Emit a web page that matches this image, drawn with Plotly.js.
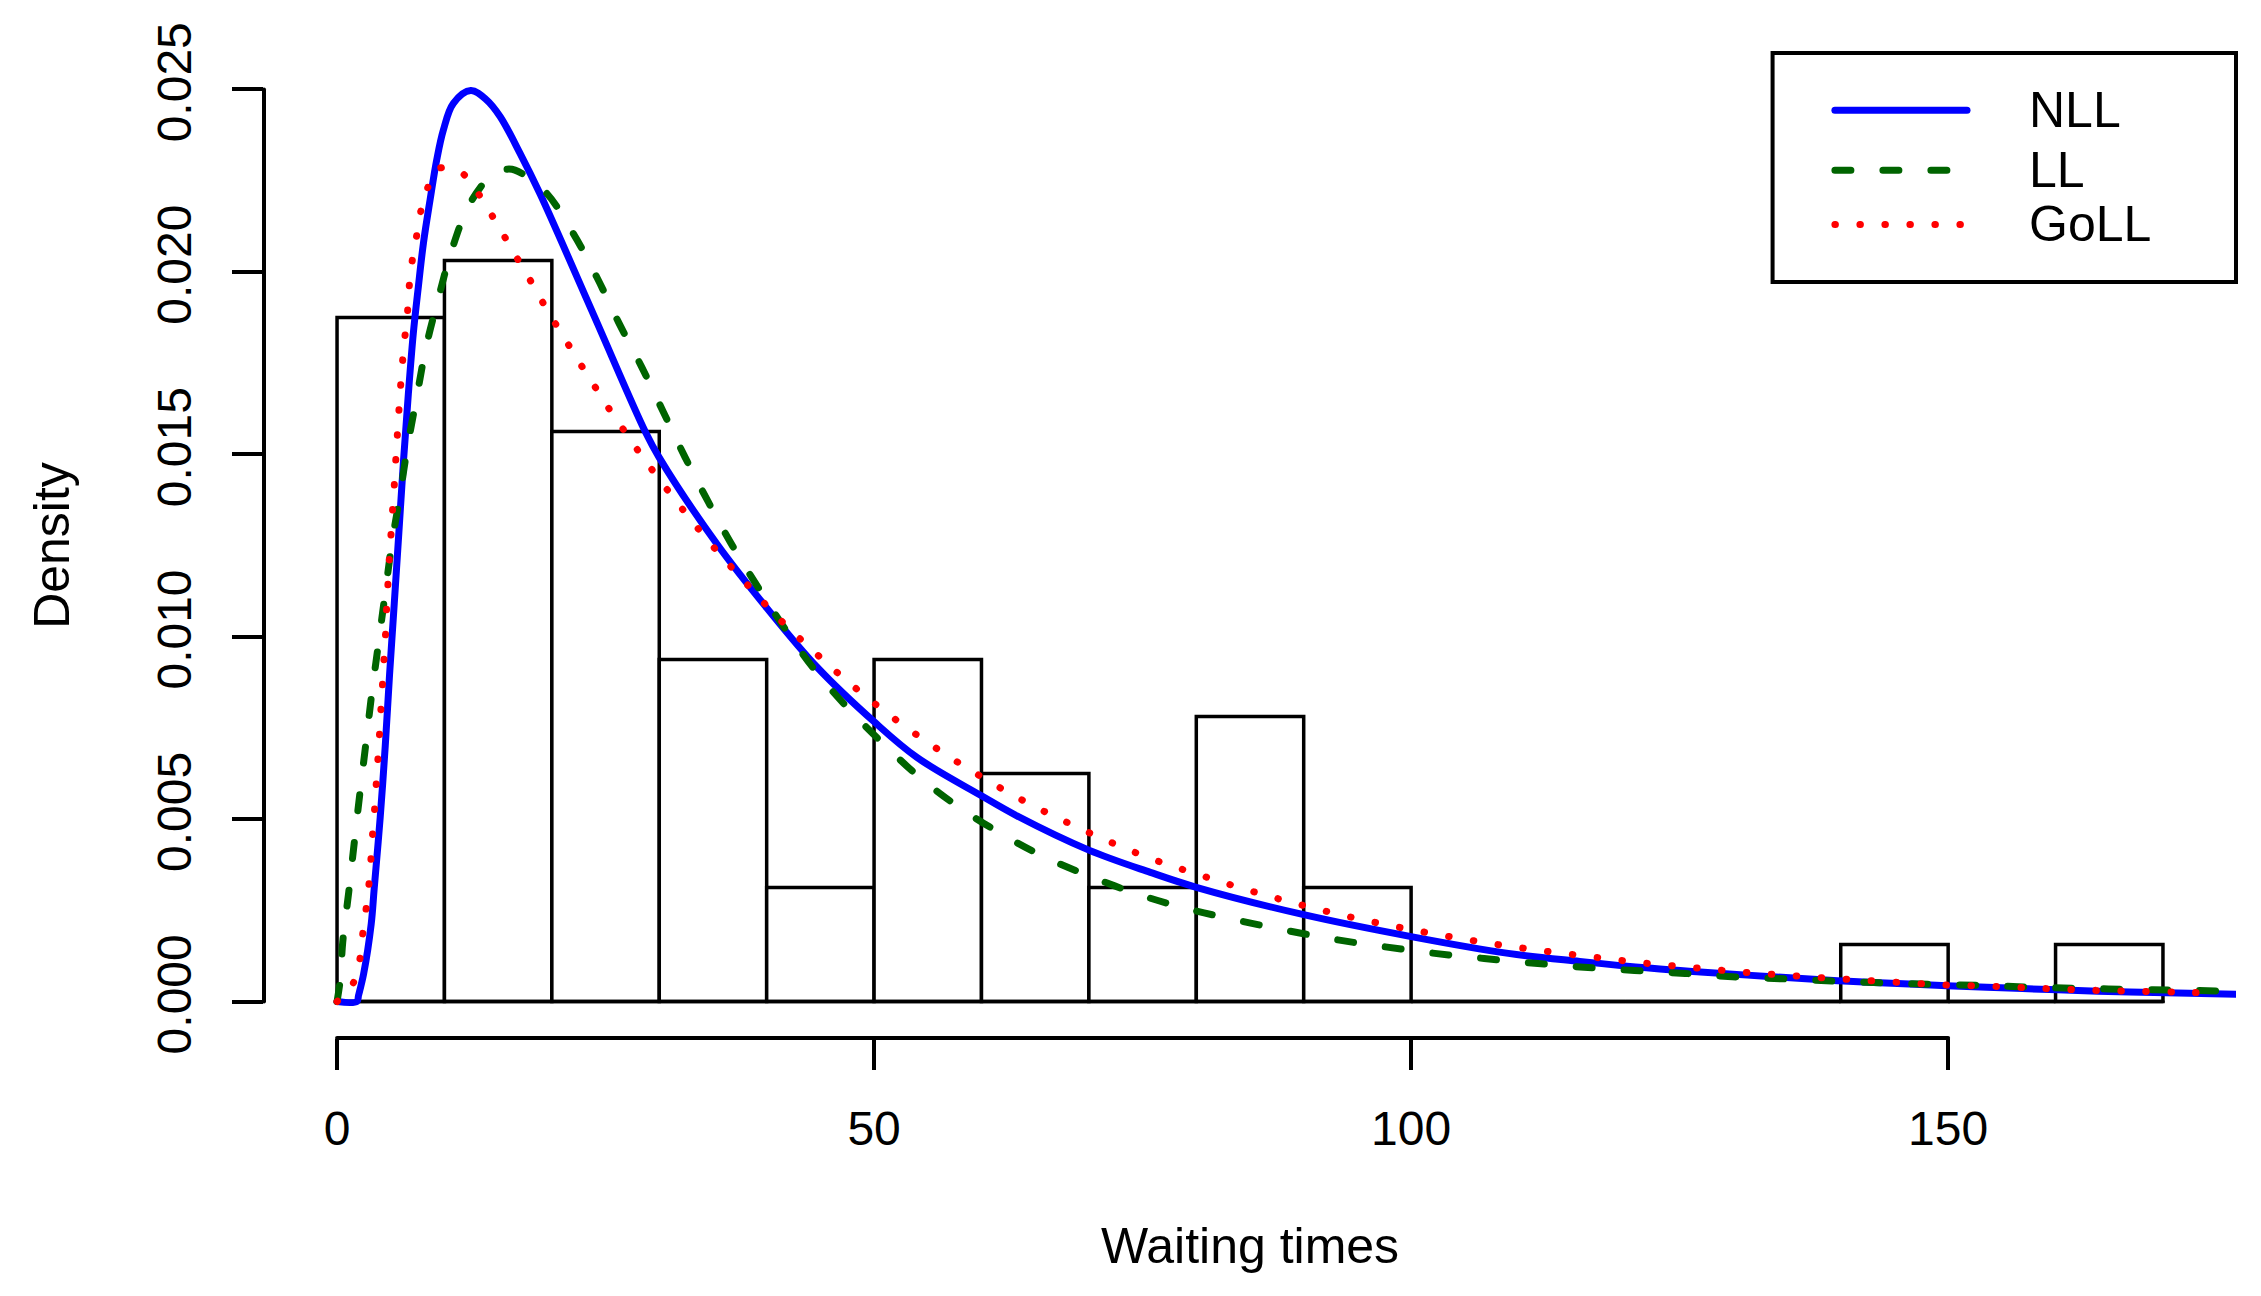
<!DOCTYPE html>
<html>
<head>
<meta charset="utf-8">
<script src="https://cdn.plot.ly/plotly-3.0.1.min.js"></script>
<style>
  html, body { margin: 0; padding: 0; background: #fff; }
  #graph { width: 2261px; height: 1296px; }
  /* R draws lines with round ends, so dots look like dots */
  .js-line, .shapelayer path { stroke-linecap: round; }
</style>
</head>
<body>
<div id="graph"></div>
<script>
// histogram of waiting times, bins of width 10
const breaks = [0, 10, 20, 30, 40, 50, 60, 70, 80, 90, 100, 110, 120, 130, 140, 150, 160, 170];
const density = [0.01875, 0.0203125, 0.015625, 0.009375, 0.003125, 0.009375, 0.00625, 0.003125,
  0.0078125, 0.003125, 0, 0, 0, 0, 0.0015625, 0, 0.0015625];

// fitted densities
const nllX = [0, 1.85, 2.0, 2.47, 3.18, 3.46, 4.02, 4.49, 4.89, 5.33, 5.76, 6.19, 6.64, 7.10, 7.57,
  8.04, 8.66, 9.28, 9.90, 10.83, 12.45, 13.94, 15.18, 17.04, 18.93, 23.88, 28.7, 30, 35.37, 40,
  44.68, 50, 53.99, 60, 63.3, 70, 75.72, 80, 90, 100, 109.05, 115.7, 122.4, 126.93, 133.6, 140.25,
  146.9, 153.6, 160.2, 166.9, 173.55, 176.8];
const nllY = [0, 0, 0.000165, 0.00075, 0.00212, 0.0031, 0.00505, 0.00701, 0.00896, 0.01092, 0.01287,
  0.01483, 0.01666, 0.01831, 0.01959, 0.02078, 0.02197, 0.02307, 0.02389, 0.02462, 0.02497, 0.02471,
  0.02426, 0.02325, 0.02212, 0.01883, 0.01562, 0.01491, 0.01254, 0.01079, 0.00917, 0.00767, 0.00669,
  0.00564, 0.00509, 0.00415, 0.00354, 0.00313, 0.00238, 0.00178, 0.00132, 0.0011, 0.00091, 0.00081,
  0.00068, 0.00056, 0.00047, 0.00039, 0.00032, 0.00026, 0.00022, 0.0002];

const llX = [0, 0.3, 0.53, 1.09, 1.61, 2.14, 2.70, 3.23, 3.85, 4.47, 5.09, 5.87, 6.55, 7.42, 8.29,
  9.43, 10.68, 12.38, 14.55, 15.64, 16.57, 19.37, 22.0, 24.18, 26.19, 28.37, 30.38, 32.42, 34.59,
  36.82, 39.25, 41.82, 44.53, 47.63, 50.88, 54.3, 58.03, 62.0, 66.1, 70.38, 74.79, 79.22, 83.78,
  88.39, 92.95, 97.55, 102.2, 106.8, 111.5, 116.1, 120.8, 125.5, 129.9, 134.8, 139.3, 143.95, 148.6,
  153.25, 157.9, 162.6, 167.2, 171.9, 176.2];
const llY = [0, 0.0006, 0.00163, 0.003, 0.00437, 0.00574, 0.00711, 0.00843, 0.0098, 0.01116, 0.01253,
  0.0139, 0.01519, 0.01657, 0.01794, 0.01927, 0.0206, 0.02188, 0.0227, 0.02281, 0.02279, 0.0222,
  0.02105, 0.01986, 0.01863, 0.01739, 0.01616, 0.01491, 0.01368, 0.01249, 0.01133, 0.01017, 0.00907,
  0.00802, 0.00706, 0.00613, 0.0053, 0.00457, 0.00393, 0.0034, 0.00292, 0.00254, 0.00223, 0.00195,
  0.0017, 0.0015, 0.00132, 0.00118, 0.00105, 0.00094, 0.00085, 0.00077, 0.00068, 0.00062, 0.00056,
  0.00051, 0.00047, 0.00044, 0.00039, 0.00036, 0.00033, 0.00031, 0.00028];

const gollX = [0, 1.43, 2.08, 2.36, 2.67, 2.95, 3.14, 3.29, 3.48, 3.63, 3.79, 3.94, 4.07, 4.22, 4.35,
  4.50, 4.59, 4.72, 4.84, 5.00, 5.15, 5.31, 5.45, 5.59, 5.74, 5.90, 6.08, 6.30, 6.55, 6.70, 6.95,
  7.36, 7.73, 8.35, 9.34, 11.36, 12.88, 14.15, 15.33, 16.51, 17.72, 18.87, 20.05, 21.26, 22.47,
  23.74, 24.98, 26.29, 27.62, 28.99, 31.83, 34.78, 37.85, 41.0, 44.4, 47.91, 51.54, 55.35, 59.26,
  63.3, 67.46, 71.69, 76.03, 80.42, 84.85, 89.35, 93.85, 98.45, 103.0, 107.65, 112.25, 116.9, 121.5,
  126.2, 130.7, 135.3, 139.96, 144.6, 149.2, 153.9, 158.6, 163.2, 167.9, 172.5, 174.8];
const gollY = [0, 0.00046, 0.00109, 0.00178, 0.00246, 0.00315, 0.00383, 0.00451, 0.0052, 0.00588,
  0.00657, 0.00725, 0.00794, 0.00862, 0.00929, 0.00997, 0.01064, 0.01133, 0.01201, 0.0127, 0.01338,
  0.01406, 0.01475, 0.01542, 0.01611, 0.0168, 0.01748, 0.01817, 0.01885, 0.01953, 0.02021, 0.0209,
  0.02157, 0.02223, 0.02282, 0.02277, 0.02226, 0.02168, 0.0211, 0.0205, 0.01991, 0.01931, 0.01872,
  0.01814, 0.01756, 0.01698, 0.0164, 0.01584, 0.01527, 0.01471, 0.01362, 0.01255, 0.01154, 0.01054,
  0.00959, 0.00868, 0.00783, 0.00703, 0.00629, 0.0056, 0.00498, 0.00441, 0.00389, 0.00346, 0.00305,
  0.00268, 0.00235, 0.00206, 0.00181, 0.00158, 0.00139, 0.00122, 0.00106, 0.00093, 0.00081, 0.00071,
  0.00062, 0.00054, 0.00046, 0.00042, 0.00036, 0.00031, 0.00028, 0.00025, 0.00023];

const xTicks = [0, 50, 100, 150];
const yTicks = [0, 0.005, 0.010, 0.015, 0.020, 0.025];

const seriesNames = ['NLL', 'LL', 'GoLL'];
const seriesColors = ['#0000ff', '#006400', '#ff0000'];
const seriesDash = ['solid', '16px,32px', '0.5px,24.5px'];

const FONT = 'Liberation Sans, Arial, Helvetica, sans-serif';
const LW = 7;

draw();

function draw() {
  const mids = [];
  const widths = [];
  for (let i = 0; i < density.length; i++) {
    mids.push((breaks[i] + breaks[i + 1]) / 2);
    widths.push(breaks[i + 1] - breaks[i]);
  }

  const bars = {
    type: 'bar',
    x: mids,
    y: density,
    width: widths,
    marker: {
      color: '#ffffff',
      line: { color: '#000000', width: 3.5 }
    },
    showlegend: false
  };

  // empty bins still show their bottom edge in R
  const base = {
    x: [breaks[0], breaks[breaks.length - 1]],
    y: [0, 0],
    mode: 'lines',
    line: { color: '#000000', width: 3.5 },
    showlegend: false
  };

  const curves = [[nllX, nllY], [llX, llY], [gollX, gollY]].map(function (xy, i) {
    return {
      x: xy[0],
      y: xy[1],
      mode: 'lines',
      name: seriesNames[i],
      line: { color: seriesColors[i], width: LW, dash: seriesDash[i], shape: 'spline', smoothing: 1 },
      showlegend: false
    };
  });

  // axis lines only span the ticks, like R's axis()
  const shapes = [
    {
      type: 'line', xref: 'x', yref: 'paper',
      x0: xTicks[0], x1: xTicks[xTicks.length - 1], y0: 0, y1: 0,
      line: { color: '#000000', width: 4 }
    },
    {
      type: 'line', xref: 'paper', yref: 'y',
      x0: 0, x1: 0, y0: yTicks[0], y1: yTicks[yTicks.length - 1],
      line: { color: '#000000', width: 4 }
    },
    // legend box
    {
      type: 'rect', xref: 'paper', yref: 'paper',
      x0: 0.765, x1: 1, y0: 0.7675, y1: 1,
      line: { color: '#000000', width: 4 },
      fillcolor: 'rgba(255,255,255,0)'
    }
  ];

  const legendRows = [0.942, 0.881, 0.826];
  const annotations = [];
  for (let i = 0; i < seriesNames.length; i++) {
    shapes.push({
      type: 'line', xref: 'paper', yref: 'paper',
      x0: 0.7966, x1: 0.8636, y0: legendRows[i], y1: legendRows[i],
      line: { color: seriesColors[i], width: LW, dash: seriesDash[i] }
    });
    annotations.push({
      xref: 'paper', yref: 'paper',
      x: 0.894, y: legendRows[i],
      xanchor: 'left', yanchor: 'middle',
      text: seriesNames[i],
      showarrow: false,
      font: { family: FONT, size: 50, color: '#000000' }
    });
  }

  const layout = {
    width: 2261,
    height: 1296,
    margin: { l: 264, r: 25, t: 53, b: 258, pad: 0 },
    paper_bgcolor: '#ffffff',
    plot_bgcolor: '#ffffff',
    font: { family: FONT, size: 48, color: '#000000' },
    showlegend: false,
    bargap: 0,
    xaxis: {
      range: [-6.8, 176.8],
      tickvals: xTicks,
      ticktext: xTicks.map(String),
      ticks: 'outside',
      ticklen: 31,
      tickwidth: 4,
      tickcolor: '#000000',
      ticklabelstandoff: 17,
      showgrid: false,
      zeroline: false,
      showline: false,
      tickfont: { family: FONT, size: 48 },
      title: { text: 'Waiting times', font: { family: FONT, size: 50 }, standoff: 74 }
    },
    yaxis: {
      range: [-0.001, 0.026],
      tickvals: yTicks,
      ticktext: yTicks.map(function (v) { return v.toFixed(3); }),
      tickangle: -90,
      ticks: 'outside',
      ticklen: 31,
      tickwidth: 4,
      tickcolor: '#000000',
      ticklabelstandoff: 22,
      showgrid: false,
      zeroline: false,
      showline: false,
      tickfont: { family: FONT, size: 48 },
      title: { text: 'Density', font: { family: FONT, size: 50 }, standoff: 62 }
    },
    shapes: shapes,
    annotations: annotations
  };

  Plotly.newPlot('graph', [bars, base].concat(curves), layout, {
    displayModeBar: false,
    staticPlot: true
  });
}
</script>
</body>
</html>
